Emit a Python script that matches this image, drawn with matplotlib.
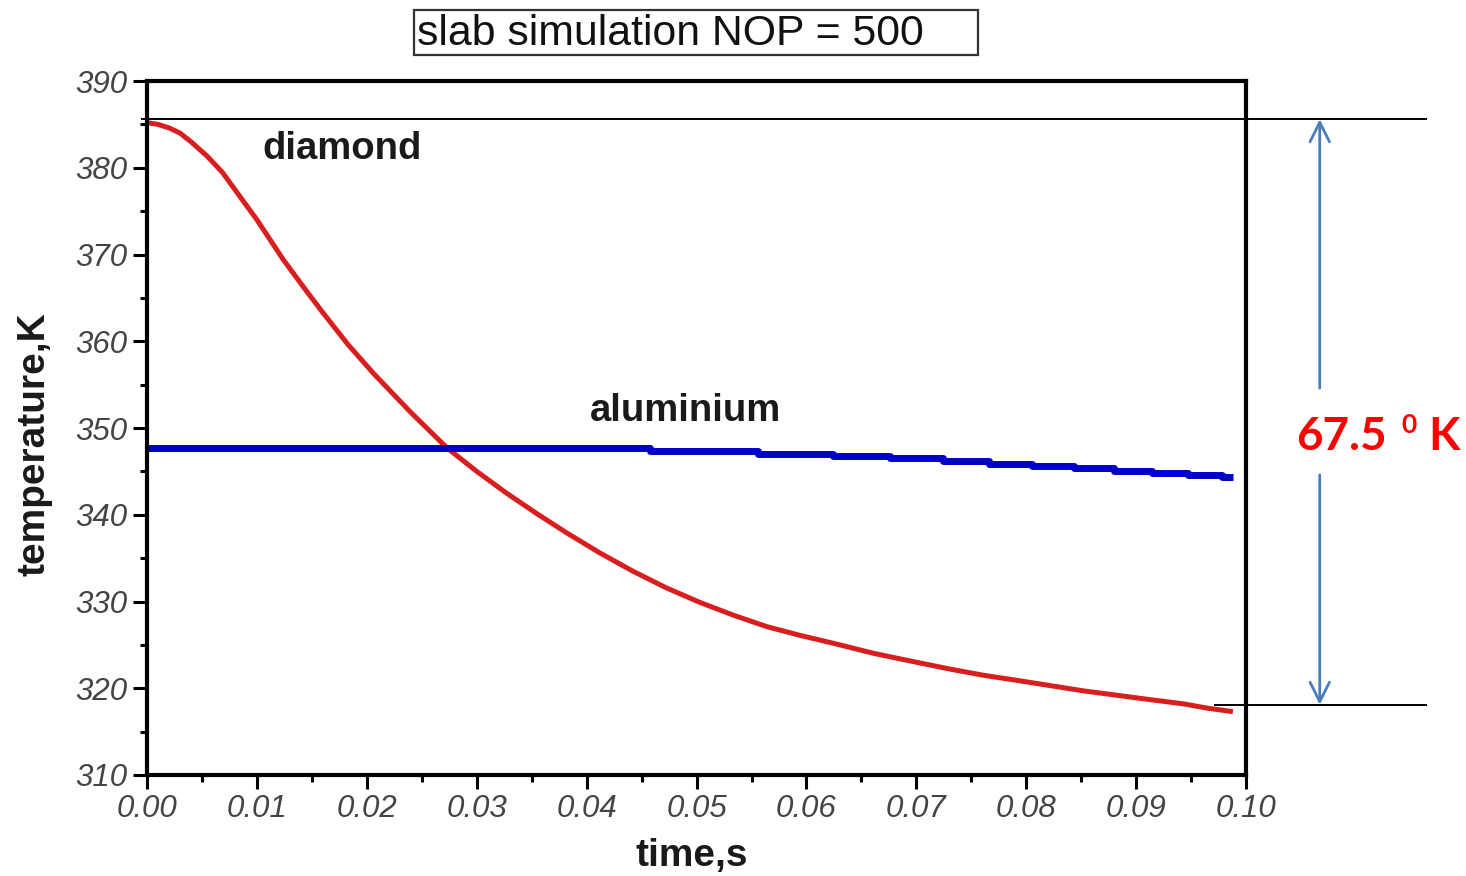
import matplotlib
matplotlib.use("Agg")
import matplotlib.pyplot as plt
from matplotlib.patches import Rectangle

# diamond slab surface temperature, K
diamond_time = [0.0, 0.0010, 0.0020, 0.0030, 0.0040, 0.0055, 0.0069, 0.0085, 0.0100,
                0.0124, 0.0145, 0.0160, 0.0183, 0.0206, 0.0240, 0.0273, 0.0300,
                0.0327, 0.0355, 0.0382, 0.0412, 0.0442, 0.0472, 0.0503, 0.0534,
                0.0564, 0.0594, 0.0624, 0.0662, 0.0700, 0.0731, 0.0761, 0.0792,
                0.0822, 0.0852, 0.0882, 0.0912, 0.0943, 0.0965, 0.0988]
diamond_temp = [385.2, 385.0, 384.6, 384.0, 383.0, 381.3, 379.4, 376.6, 374.0,
                369.4, 365.8, 363.3, 359.6, 356.3, 351.8, 347.7, 345.0,
                342.5, 340.1, 337.9, 335.6, 333.5, 331.6, 329.9, 328.4,
                327.1, 326.1, 325.2, 324.0, 323.0, 322.2, 321.5, 320.9,
                320.3, 319.7, 319.2, 318.7, 318.2, 317.7, 317.3]

# aluminium slab surface temperature, K
alu_time = [0.0, 0.0458, 0.0556, 0.0624, 0.0676, 0.0724, 0.0766, 0.0805, 0.0843,
            0.0880, 0.0914, 0.0947, 0.0978, 0.0988]
alu_temp = [347.65, 347.3, 347.0, 346.8, 346.5, 346.2, 345.9, 345.65, 345.35,
            345.1, 344.85, 344.6, 344.3, 344.3]

x_ticks = [0.00, 0.01, 0.02, 0.03, 0.04, 0.05, 0.06, 0.07, 0.08, 0.09, 0.10]
x_tick_labels = ["0.00", "0.01", "0.02", "0.03", "0.04", "0.05", "0.06", "0.07",
                 "0.08", "0.09", "0.10"]
y_ticks = [310, 320, 330, 340, 350, 360, 370, 380, 390]
y_tick_labels = [str(v) for v in y_ticks]

t_max = 385.6     # upper reference level
delta_t = 67.5    # drop over the run
t_min = t_max - delta_t

plt.rcParams['font.family'] = ['Liberation Sans', 'DejaVu Sans']

fig = plt.figure(figsize=(14.66, 8.76), dpi=100)
ax = fig.add_axes([0.1003, 0.1153, 0.7497, 0.7922])

ax.plot(diamond_time, diamond_temp, color='#d81e1e', lw=3.6, solid_capstyle='butt',
        solid_joinstyle='round')
ax.plot(alu_time, alu_temp, color='#0000c8', lw=5, drawstyle='steps-post',
        solid_capstyle='butt')

ax.set_xlim(0, 0.10)
ax.set_ylim(310, 390)
ax.set_xticks(x_ticks, x_tick_labels, fontstyle='italic')
ax.set_yticks(y_ticks, y_tick_labels, fontstyle='italic')
ax.set_xticks([0.005 + 0.01 * i for i in range(10)], minor=True)
ax.set_yticks([315 + 10 * i for i in range(8)], minor=True)
ax.tick_params(which='major', length=10, width=2.2, direction='out',
               labelsize=22.5, labelcolor='#444444', pad=4)
ax.tick_params(which='minor', length=5, width=2.2, direction='out')
for s in ax.spines.values():
    s.set_linewidth(3)

ax.text(0.01046, 381.0, 'diamond', fontsize=27.5, fontweight='bold', va='baseline',
        color='#1a1a1a')
ax.text(0.0403, 350.8, 'aluminium', fontsize=27.5, fontweight='bold', va='baseline',
        color='#1a1a1a')

# reference levels and the span arrow
ax.plot([-0.0005, 0.1164], [t_max, t_max], color='black', lw=1.4, clip_on=False)
ax.plot([0.0972, 0.1164], [t_min, t_min], color='black', lw=1.4, clip_on=False)
arrow = dict(arrowstyle='->,head_length=0.7,head_width=0.35', color='#4a7ebb',
             lw=2, mutation_scale=20, shrinkA=0, shrinkB=0)
ax.annotate('', xy=(0.1067, t_max), xytext=(0.1067, 354.6), arrowprops=arrow,
            annotation_clip=False)
ax.annotate('', xy=(0.1067, t_min), xytext=(0.1067, 344.6), arrowprops=arrow,
            annotation_clip=False)

fig.text(1296 / 1466, 1 - 450 / 876, f'{delta_t}', fontsize=33, fontweight='bold',
         family='Lato', color='#ff0000', va='baseline')
fig.text(1401 / 1466, 1 - 433 / 876, '0', fontsize=19, fontweight='bold',
         family='Lato', color='#ff0000', va='baseline')
fig.text(1428 / 1466, 1 - 450 / 876, 'K', fontsize=33, fontweight='bold',
         family='Lato', color='#ff0000', va='baseline')

fig.text(692 / 1466, 1 - 856 / 876, 'time,s', fontsize=28, fontweight='bold',
         ha='center', va='center', color='#1a1a1a')
fig.text(35 / 1466, 1 - 444 / 876, 'temperature,K', fontsize=28, fontweight='bold',
         ha='center', va='center', rotation=90, color='#1a1a1a')

fig.add_artist(Rectangle((414 / 1466, 1 - 55 / 876), 564 / 1466, 45 / 876,
                         transform=fig.transFigure, fill=False, lw=1.6, ec='#333333'))
fig.text(417 / 1466, 1 - 34 / 876, 'slab simulation NOP = 500', fontsize=30.8,
         va='center', color='#111111')

fig.savefig('out.png', dpi=100)
